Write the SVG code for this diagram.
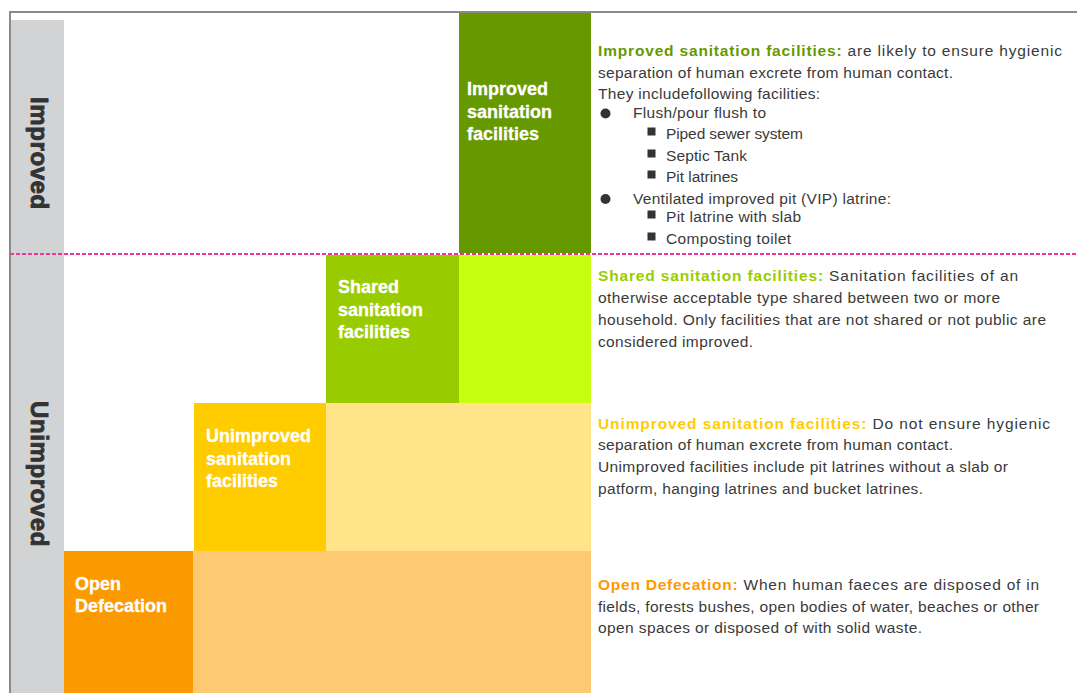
<svg xmlns="http://www.w3.org/2000/svg" width="1077" height="693" viewBox="0 0 1077 693">
<style>
.body{font-family:"Liberation Sans",Arial,sans-serif;font-size:15.5px;fill:#3a3a3a}
.hd{font-weight:bold}
.blk{font-family:"Liberation Sans",Arial,sans-serif;font-size:18px;font-weight:bold;fill:#ffffff;stroke:#ffffff;stroke-width:0.3px}
.side{font-family:"Liberation Sans",Arial,sans-serif;font-size:24px;font-weight:bold;fill:#333333;stroke:#333333;stroke-width:0.9px;letter-spacing:0.6px}
.bul{fill:#333333}
</style>
<rect x="0" y="0" width="1077" height="693" fill="#ffffff"/>
<g id="frame">
<rect x="11" y="20" width="53" height="673" fill="#d2d3d5"/>
<path d="M10 693 V12 H1077" fill="none" stroke="#8a8a8a" stroke-width="2"/>
</g>
<g id="label-improved">
<text class="side" transform="translate(31,97) rotate(90)">Improved</text>
</g>
<g id="label-unimproved">
<text class="side" transform="translate(31,401) rotate(90)">Unimproved</text>
</g>
<g id="node-improved">
<rect x="459" y="13" width="132" height="240" fill="#669900"/>
<text class="blk" x="467" y="95">Improved</text>
<text class="blk" x="467" y="118">sanitation</text>
<text class="blk" x="467" y="140">facilities</text>
</g>
<g id="node-shared">
<rect x="326" y="255" width="133" height="148" fill="#99cc00"/>
<rect x="459" y="255" width="132" height="148" fill="#c6ff10"/>
<text class="blk" x="338" y="293">Shared</text>
<text class="blk" x="338" y="316">sanitation</text>
<text class="blk" x="338" y="338">facilities</text>
</g>
<g id="node-unimproved">
<rect x="194" y="403" width="132" height="148" fill="#ffcc00"/>
<rect x="326" y="403" width="265" height="148" fill="#ffe48a"/>
<text class="blk" x="206" y="442">Unimproved</text>
<text class="blk" x="206" y="465">sanitation</text>
<text class="blk" x="206" y="487">facilities</text>
</g>
<g id="node-open">
<rect x="64" y="551" width="129" height="142" fill="#fa9a00"/>
<rect x="193" y="551" width="398" height="142" fill="#ffc872"/>
<text class="blk" x="75" y="590">Open</text>
<text class="blk" x="75" y="612">Defecation</text>
</g>
<g id="connectors">
<line x1="10" y1="254" x2="1077" y2="254" stroke="#f0359a" stroke-width="2" stroke-dasharray="4 2"/>
</g>
<g id="desc-improved">
<text class="body" x="598" y="56" textLength="464"><tspan class="hd" fill="#669900">Improved sanitation facilities:</tspan> are likely to ensure hygienic</text>
<text class="body" x="598" y="78" textLength="355">separation of human excrete from human contact.</text>
<text class="body" x="598" y="99" textLength="222">They includefollowing facilities:</text>
<circle class="bul" cx="605.5" cy="113.5" r="5"/>
<text class="body" x="633" y="118" textLength="133">Flush/pour flush to</text>
<rect class="bul" x="647.5" y="127.5" width="8" height="8"/>
<text class="body" x="666" y="139" textLength="137">Piped sewer system</text>
<rect class="bul" x="647.5" y="149.5" width="8" height="8"/>
<text class="body" x="666" y="161" textLength="81">Septic Tank</text>
<rect class="bul" x="647.5" y="170.5" width="8" height="8"/>
<text class="body" x="666" y="182" textLength="72">Pit latrines</text>
<circle class="bul" cx="605.5" cy="199" r="5"/>
<text class="body" x="633" y="204" textLength="258">Ventilated improved pit (VIP) latrine:</text>
<rect class="bul" x="647.5" y="210.5" width="8" height="8"/>
<text class="body" x="666" y="222" textLength="135">Pit latrine with slab</text>
<rect class="bul" x="647.5" y="232.5" width="8" height="8"/>
<text class="body" x="666" y="244" textLength="125">Composting toilet</text>
</g>
<g id="desc-shared">
<text class="body" x="598" y="281" textLength="420"><tspan class="hd" fill="#99cc00">Shared sanitation facilities:</tspan> Sanitation facilities of an</text>
<text class="body" x="598" y="303" textLength="402">otherwise acceptable type shared between two or more</text>
<text class="body" x="598" y="325" textLength="448">household. Only facilities that are not shared or not public are</text>
<text class="body" x="598" y="347" textLength="155">considered improved.</text>
</g>
<g id="desc-unimproved">
<text class="body" x="598" y="429" textLength="452"><tspan class="hd" fill="#ffcc00">Unimproved sanitation facilities:</tspan> Do not ensure hygienic</text>
<text class="body" x="598" y="450" textLength="355">separation of human excrete from human contact.</text>
<text class="body" x="598" y="472" textLength="410">Unimproved facilities include pit latrines without a slab or</text>
<text class="body" x="598" y="494" textLength="325">patform, hanging latrines and bucket latrines.</text>
</g>
<g id="desc-open">
<text class="body" x="598" y="590" textLength="441"><tspan class="hd" fill="#ff9900">Open Defecation:</tspan> When human faeces are disposed of in</text>
<text class="body" x="598" y="612" textLength="441">fields, forests bushes, open bodies of water, beaches or other</text>
<text class="body" x="598" y="633" textLength="324">open spaces or disposed of with solid waste.</text>
</g>
</svg>
